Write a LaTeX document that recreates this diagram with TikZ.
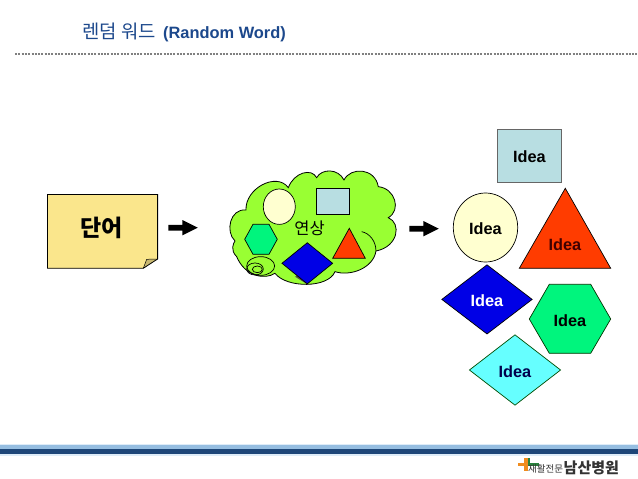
\documentclass[tikz,border=0pt]{standalone}
\usepackage{fontspec}
\setmainfont{Liberation Sans}
\newfontfamily\kofont{Noto Sans CJK KR}
\usetikzlibrary{shapes.geometric}
\definecolor{navy}{RGB}{28,72,140}
\definecolor{footdark}{RGB}{30,70,120}
\definecolor{footmid}{RGB}{150,190,225}
\definecolor{footpale}{RGB}{222,236,248}
\definecolor{note}{RGB}{250,230,140}
\definecolor{fold}{RGB}{200,184,112}
\definecolor{cloudg}{RGB}{153,255,51}
\definecolor{lblue}{RGB}{184,222,226}
\definecolor{cream}{RGB}{255,255,208}
\definecolor{redo}{RGB}{255,60,0}
\definecolor{hexg}{RGB}{0,245,125}
\definecolor{cyanl}{RGB}{102,255,255}
\definecolor{bluef}{RGB}{0,0,230}
\definecolor{logoor}{RGB}{240,140,30}
\definecolor{logogr}{RGB}{40,130,60}
\tikzset{
  x=1pt,y=-1pt,
  shp/.style={draw=black,line width=0.7pt,line join=miter},
  lab/.style={font=\bfseries\fontsize{16.3}{18}\selectfont,inner sep=0pt},
  arrowbar/.style={fill=black,draw=none}
}
\newcommand{\blockarrow}[2]{\fill[arrowbar] (#1-9,#2-2.8) -- (#1+5,#2-2.8) -- (#1+5,#2-7.7) -- (#1+20.5,#2) -- (#1+5,#2+7.7) -- (#1+5,#2+2.8) -- (#1-9,#2+2.8) -- cycle;}
\newcommand{\ideatxt}{\raisebox{-7.3pt}[0pt][0pt]{Idea}}
\begin{document}
\begin{tikzpicture}
\useasboundingbox (0,0) rectangle (638,479);
\fill[white] (0,0) rectangle (638,479);
% title
\node[anchor=west,inner sep=0pt,text=navy,font=\bfseries\fontsize{16.4}{18}\selectfont] (title) at (82,32.5) {{\kofont\mdseries\fontsize{18.8}{20}\selectfont 렌덤 워드}\hspace{3pt} (Random Word)};
\draw[black!50,line width=2pt,dash pattern=on 2pt off 1.3pt] (15,54.4) -- (638,54.4);
% word note
\fill[note] (47.4,194.4) -- (157.6,194.4) -- (157.6,259) -- (143.3,268.3) -- (47.4,268.3) -- cycle;
\fill[fold] (157.6,259) -- (143.3,268.3) -- (146.7,259.3) -- cycle;
\draw[line width=0.8pt] (143.3,268.3) -- (47.4,268.3) -- (47.4,194.4) -- (157.6,194.4) -- (157.6,259) -- cycle;
\draw[line width=0.5pt] (157.6,259) -- (146.7,259.3) -- (143.3,268.3);
\node[inner sep=0pt,font=\kofont\bfseries\fontsize{23}{25}\selectfont] (word) at (101.5,227.5) {단어};
\blockarrow{177.3}{227.7}
% cloud (coordinates are 3x crop pixels)
\begin{scope}[shift={(220,165)},x=0.3333pt,y=-0.3333pt]
\draw[shp,fill=cloudg,line width=0.8pt] (205,68)
 .. controls (222,22) and (275,8) .. (290,38)
 .. controls (305,10) and (355,10) .. (372,45)
 .. controls (392,5) and (465,8) .. (475,65)
 .. controls (525,70) and (545,135) .. (505,158)
 .. controls (545,175) and (535,245) .. (468,258)
 .. controls (460,310) and (390,335) .. (345,320)
 .. controls (325,370) and (200,370) .. (165,325)
 .. controls (135,345) and (75,335) .. (50,275)
 .. controls (30,255) and (40,235) .. (45,228)
 .. controls (15,200) and (30,130) .. (78,135)
 .. controls (75,70) and (170,20) .. (205,68) -- cycle;
\draw[line width=0.7pt] (425,200) .. controls (450,205) and (468,230) .. (468,258);
\draw[line width=0.7pt] (122,303) ellipse (42 and 28);
\draw[line width=0.7pt] (105,312) ellipse (25 and 18);
\draw[line width=0.7pt] (112,313) ellipse (15 and 10);
\fill[black!70] (225,335) -- (262,358) -- (240,330) -- cycle;
\end{scope}
\node[shp,fill=cream,ellipse,minimum width=32pt,minimum height=35.4pt,inner sep=0pt] (c1) at (279.3,206.7) {};
\node[shp,fill=lblue,rectangle,minimum width=32.6pt,minimum height=26pt,inner sep=0pt] (c2) at (333,201.3) {};
\draw[shp,fill=hexg] (253,224.3) -- (269,224.3) -- (277.3,239.3) -- (269,254.3) -- (253,254.3) -- (244.7,239.3) -- cycle;
\draw[shp,fill=redo] (349.3,228.3) -- (365.3,258.3) -- (332.7,258.3) -- cycle;
\node[shp,fill=bluef,diamond,minimum width=51pt,minimum height=41.4pt,inner sep=0pt] (c5) at (307.3,263.3) {};
\node[inner sep=0pt,font=\kofont\fontsize{16.5}{18}\selectfont] (assoc) at (309.5,228.5) {연상};
\blockarrow{418.3}{228.7}
% ideas
\node[draw=black!60,line width=0.7pt,fill=lblue,rectangle,minimum width=64.4pt,minimum height=53pt,inner sep=0pt,lab] (i1) at (529.5,155.5) {\ideatxt};
\node[shp,fill=cream,ellipse,minimum width=64.4pt,minimum height=69pt,inner sep=0pt,lab] (i2) at (485.5,227.5) {\ideatxt};
\draw[shp,fill=redo] (565.3,188.3) -- (610.7,268.3) -- (519.3,268.3) -- cycle;
\node[lab,text=black!75!red] (i3) at (565,243.5) {\ideatxt};
\node[shp,fill=bluef,diamond,minimum width=90.6pt,minimum height=69.4pt,inner sep=0pt,lab,text=white] (i4) at (487,299.4) {\ideatxt};
\draw[shp,draw=black!80!green,fill=hexg] (549.3,284.3) -- (590.7,284.3) -- (610.7,319) -- (590.7,353.3) -- (549.3,353.3) -- (529.3,319) -- cycle;
\node[lab] (i5) at (570,319.5) {\ideatxt};
\node[draw=black!70!green,line width=0.7pt,fill=cyanl,diamond,minimum width=91.4pt,minimum height=70.6pt,inner sep=0pt,lab,text=black!70!blue] (i6) at (515,370) {\ideatxt};
% footer
\fill[footpale] (0,444) rectangle (638,456);
\fill[footmid] (0,445) rectangle (638,449);
\fill[footdark] (0,449) rectangle (638,453.5);
% logo
\fill[logoor] (518,463) rectangle (528,466);
\fill[logoor] (524,458) rectangle (528,471);
\fill[logogr] (527.5,458) rectangle (530,466);
\fill[logogr] (527.5,463) rectangle (539,466);
\node[anchor=west,inner sep=0pt,font=\kofont\fontsize{9.5}{10}\selectfont,text=black!80] (lg1) at (528,469) {재활전문};
\node[anchor=west,inner sep=0pt,font=\kofont\bfseries\fontsize{15}{16}\selectfont,text=black!80] (lg2) at (563.5,467.7) {남산병원};
\end{tikzpicture}
\end{document}
